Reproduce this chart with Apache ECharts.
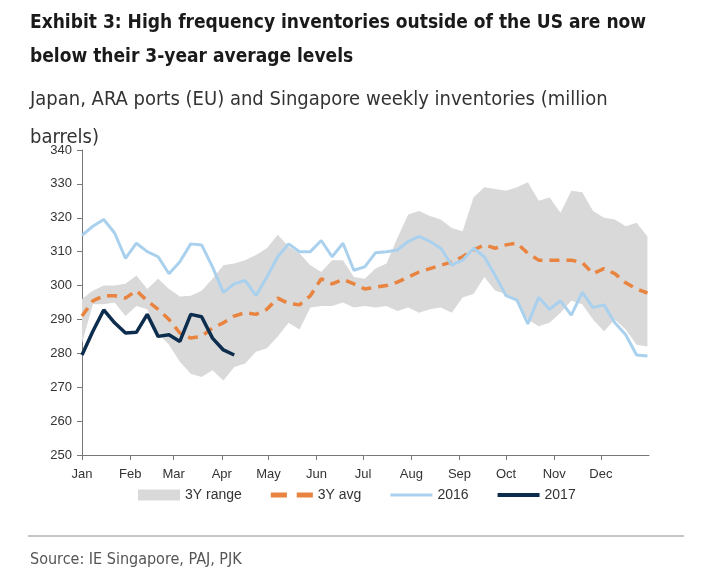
<!DOCTYPE html>
<html>
 <head>
  <title>Exhibit 3 inventories</title>
  <script src="https://cdn.jsdelivr.net/npm/echarts@6/dist/echarts.min.js"></script>
  <style>
    html, body, #container {
    width: 100%;
    height: 100%;
    margin: 0;
    padding: 0;
    background: #fff;
    }
  </style>
 </head>
  <body>
    <div id="container"></div>
    <script>
// weekly points, week 0 = first week of Jan
var rangeUpper = [296, 298.5, 300, 300, 300.5, 303, 299, 302, 299, 296.8, 297, 298.5, 302, 306, 306.5, 307.5, 309, 311, 315, 311.5, 309.5, 306, 304, 307.5, 307.5, 302.5, 302, 305, 306.5, 314, 321, 322, 320.5, 319.5, 317, 316, 326, 329, 328.5, 328, 329, 330.5, 325, 326, 321.5, 328, 327.5, 322, 320, 319.5, 317.5, 318.5, 314.5];
var rangeLower = [283, 294.5, 294.5, 295, 291, 294, 293, 286, 282.5, 277.5, 274, 273, 275, 272, 276, 277, 280.5, 281.5, 285, 289, 287, 293.5, 294, 294, 295, 293.5, 294, 293.5, 294, 292.5, 293.5, 292, 293, 293.5, 292, 296.5, 297.5, 302.5, 298.5, 297.5, 295, 290, 288, 289, 292, 295.5, 294.5, 290, 286.5, 290, 287, 282.5, 282];
var avg3y = [291, 295.5, 297, 297, 296.3, 298.5, 295.5, 293, 290, 286, 284.5, 285, 287.5, 289, 291, 292, 291.5, 293, 296.3, 294.7, 294.3, 297, 302, 300.5, 301.8, 300.5, 299, 299.5, 300, 301, 302.5, 304, 305, 306, 307, 308.5, 310.5, 312, 311, 312, 312.5, 309.5, 307.5, 307.5, 307.5, 307.5, 306.8, 303.5, 305, 303.5, 300.8, 299, 297.8];
var y2016 = [314.8, 317.5, 319.5, 315.5, 308, 312.5, 310, 308.5, 303.5, 307, 312.3, 312, 305.5, 298, 300.5, 301.5, 297, 302.5, 308.5, 312.3, 310, 310, 313.3, 308.5, 312.5, 304.5, 305.5, 309.7, 310, 310.5, 313, 314.5, 313, 311, 306, 307.5, 311, 308.5, 303, 297, 295.7, 288.7, 296.5, 293, 295.5, 291.3, 298, 293.5, 294.3, 289, 285.5, 279.5, 279.2];
var y2017 = [279.5, 286.5, 292.8, 289, 286, 286.2, 291.5, 285, 285.5, 283.5, 291.5, 290.8, 284.5, 281, 279.5];

var monthNames = ['Jan', 'Feb', 'Mar', 'Apr', 'May', 'Jun', 'Jul', 'Aug', 'Sep', 'Oct', 'Nov', 'Dec'];
var monthStart = [0, 31, 59, 90, 120, 151, 181, 212, 243, 273, 304, 334];

var narrow = '"Liberation Sans Narrow", "DejaVu Sans Condensed", "Arial Narrow", sans-serif';
var plain = '"Liberation Sans", Arial, sans-serif';

function pairs(vals) {
  return vals.map(function (v, i) { return [i * 7, v]; });
}

var rangeData = rangeLower.map(function (lo, i) { return [i * 7, lo, rangeUpper[i]]; });

// whole band drawn as one polygon on the first item
function renderBand(params, api) {
  if (params.dataIndex !== 0) return null;
  var pts = [];
  for (var i = 0; i < rangeData.length; i++) {
    pts.push(api.coord([rangeData[i][0], rangeData[i][2]]));
  }
  for (var j = rangeData.length - 1; j >= 0; j--) {
    pts.push(api.coord([rangeData[j][0], rangeData[j][1]]));
  }
  return {
    type: 'polygon',
    shape: { points: pts },
    style: { fill: '#d9d9d9' }
  };
}

var chartDom = document.getElementById('container');
var myChart = echarts.init(chartDom);
var option;

option = {
  animation: false,
  backgroundColor: '#fff',
  title: [
    {
      text: 'Exhibit 3: High frequency inventories outside of the US are now\nbelow their 3-year average levels',
      left: 30, top: 6, padding: 0,
      textStyle: { fontFamily: narrow, fontWeight: 'bold', fontSize: 19, lineHeight: 34, color: '#1a1a1a' }
    },
    {
      text: 'Japan, ARA ports (EU) and Singapore weekly inventories (million\nbarrels)',
      left: 30, top: 81, padding: 0,
      textStyle: { fontFamily: narrow, fontWeight: 'normal', fontSize: 20, lineHeight: 38, color: '#333' }
    },
    {
      text: 'Source: IE Singapore, PAJ, PJK',
      left: 30, top: 546, padding: 0,
      textStyle: { fontFamily: narrow, fontWeight: 'normal', fontSize: 16, color: '#555' }
    }
  ],
  graphic: [
    { type: 'line', shape: { x1: 28, y1: 536, x2: 684, y2: 536 }, style: { stroke: '#8c8c8c', lineWidth: 1 } }
  ],
  legend: {
    top: 483, left: 138, padding: 0,
    itemGap: 29,
    itemWidth: 42, itemHeight: 11,
    textStyle: { fontFamily: plain, fontSize: 14, color: '#333' },
    data: [
      { name: '3Y range', icon: 'rect' },
      { name: '3Y avg', icon: 'path://M0,0H13V4H0Z M21,0H34V4H21Z' },
      { name: '2016', icon: 'path://M0,0H42V3H0Z' },
      { name: '2017', icon: 'path://M0,0H42V4H0Z' }
    ]
  },
  grid: { left: 82, right: 55, top: 150, bottom: 114 },
  xAxis: {
    type: 'value',
    min: 0, max: 365,
    splitLine: { show: false },
    axisLine: { lineStyle: { color: '#777' } },
    axisTick: { show: true, length: 5, lineStyle: { color: '#777' }, customValues: monthStart },
    axisLabel: {
      customValues: monthStart,
      margin: 8,
      color: '#333', fontFamily: plain, fontSize: 13,
      formatter: function (v) { return monthNames[monthStart.indexOf(v)] || ''; }
    }
  },
  yAxis: {
    type: 'value',
    min: 250, max: 340, interval: 10,
    splitLine: { show: false },
    axisLine: { show: true, lineStyle: { color: '#777' } },
    axisTick: { show: true, length: 5, lineStyle: { color: '#777' } },
    axisLabel: { margin: 10, color: '#333', fontFamily: plain, fontSize: 13 }
  },
  series: [
    {
      name: '3Y range', type: 'custom',
      renderItem: renderBand,
      data: rangeData,
      encode: { x: 0, y: [1, 2] },
      itemStyle: { color: '#d9d9d9' },
      silent: true
    },
    {
      name: '3Y avg', type: 'line', symbol: 'none',
      data: pairs(avg3y),
      itemStyle: { color: '#e8843f' },
      lineStyle: { color: '#e8843f', width: 3.5, type: [10, 7] }
    },
    {
      name: '2016', type: 'line', symbol: 'none',
      data: pairs(y2016),
      itemStyle: { color: '#a9d1ee' },
      lineStyle: { color: '#a9d1ee', width: 3 }
    },
    {
      name: '2017', type: 'line', symbol: 'none',
      data: pairs(y2017),
      itemStyle: { color: '#0c2d4d' },
      lineStyle: { color: '#0c2d4d', width: 3.5 }
    }
  ]
};

option && myChart.setOption(option);
    </script>
  </body>
</html>
